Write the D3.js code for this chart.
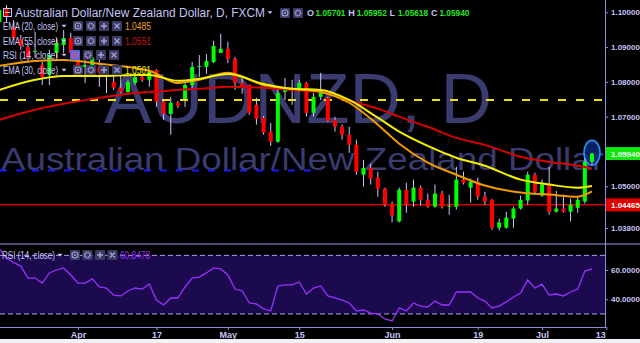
<!DOCTYPE html>
<html>
<head>
<meta charset="UTF-8">
<style>
  html, body { margin: 0; padding: 0; background: #000; }
  svg { display: block; }
  text { font-family: "Liberation Sans", Arial, sans-serif; }
</style>
</head>
<body>
<svg id="chart"></svg>
<script src="https://cdn.jsdelivr.net/npm/d3@7"></script>
<script>
// ---- values (AUDNZD daily, FXCM) ----
const firstDay = "2018-03-16", lastTick = "2018-07-13";

const opens = [1.0972, 1.1012, 1.0958, 1.0923, 1.0900, 1.0886, 1.0849, 1.0820, 1.0883, 1.0906,
  1.0926, 1.0883, 1.0843, 1.0843, 1.0843, 1.0829, 1.0800, 1.0783, 1.0771, 1.0797,
  1.0814, 1.0806, 1.0834, 1.0743, 1.0708, 1.0740, 1.0751, 1.0791, 1.0843, 1.0843,
  1.0857, 1.0883, 1.0895, 1.0866, 1.0797, 1.0791, 1.0734, 1.0697, 1.0657, 1.0628,
  1.0771, 1.0774, 1.0780, 1.0797, 1.0711, 1.0757, 1.0754, 1.0691, 1.0671, 1.0648,
  1.0619, 1.0533, 1.0553, 1.0525, 1.0493, 1.0450, 1.0399, 1.0490, 1.0456, 1.0496,
  1.0461, 1.0441, 1.0479, 1.0441, 1.0441, 1.0519, 1.0496, 1.0513, 1.0470, 1.0461,
  1.0381, 1.0381, 1.0407, 1.0436, 1.0459, 1.0533, 1.0473, 1.0505, 1.0427, 1.0436,
  1.0427, 1.0438, 1.0456, 1.05701];
const highs = [1.1018, 1.1021, 1.0978, 1.0935, 1.0912, 1.0944, 1.0857, 1.0892, 1.0926, 1.0949,
  1.0941, 1.0892, 1.0863, 1.0875, 1.0869, 1.0834, 1.0834, 1.0820, 1.0806, 1.0826,
  1.0820, 1.0834, 1.0837, 1.0748, 1.0757, 1.0745, 1.0797, 1.0857, 1.0877, 1.0880,
  1.0918, 1.0938, 1.0915, 1.0872, 1.0811, 1.0793, 1.0754, 1.0702, 1.0682, 1.0783,
  1.0811, 1.0806, 1.0806, 1.0800, 1.0768, 1.0826, 1.0757, 1.0700, 1.0677, 1.0671,
  1.0634, 1.0576, 1.0565, 1.0542, 1.0496, 1.0456, 1.0496, 1.0510, 1.0519, 1.0502,
  1.0479, 1.0505, 1.0487, 1.0476, 1.0556, 1.0542, 1.0522, 1.0525, 1.0484, 1.0463,
  1.0407, 1.0427, 1.0441, 1.0473, 1.0542, 1.0539, 1.0519, 1.0556, 1.0487, 1.0476,
  1.0464, 1.0470, 1.0580, 1.05952];
const lows = [1.0967, 1.0972, 1.0921, 1.0892, 1.0854, 1.0869, 1.0791, 1.0791, 1.0869, 1.0883,
  1.0869, 1.0820, 1.0797, 1.0834, 1.0786, 1.0768, 1.0777, 1.0768, 1.0763, 1.0791,
  1.0800, 1.0786, 1.0728, 1.0691, 1.0648, 1.0725, 1.0728, 1.0783, 1.0814, 1.0823,
  1.0854, 1.0883, 1.0854, 1.0777, 1.0766, 1.0705, 1.0677, 1.0648, 1.0616, 1.0625,
  1.0748, 1.0734, 1.0771, 1.0700, 1.0700, 1.0748, 1.0685, 1.0657, 1.0634, 1.0596,
  1.0533, 1.0499, 1.0505, 1.0470, 1.0441, 1.0396, 1.0396, 1.0424, 1.0441, 1.0444,
  1.0438, 1.0438, 1.0436, 1.0418, 1.0433, 1.0505, 1.0453, 1.0461, 1.0447, 1.0375,
  1.0373, 1.0378, 1.0381, 1.0433, 1.0447, 1.0476, 1.0470, 1.0418, 1.0424, 1.0424,
  1.0399, 1.0424, 1.0450, 1.05618];
const closes = [1.1007, 1.0987, 1.0926, 1.0903, 1.0869, 1.0889, 1.0814, 1.0877, 1.0912, 1.0926,
  1.0883, 1.0843, 1.0849, 1.0869, 1.0826, 1.0820, 1.0783, 1.0771, 1.0800, 1.0814,
  1.0806, 1.0829, 1.0743, 1.0708, 1.0740, 1.0731, 1.0791, 1.0843, 1.0846, 1.0860,
  1.0903, 1.0895, 1.0866, 1.0797, 1.0786, 1.0711, 1.0694, 1.0654, 1.0628, 1.0768,
  1.0783, 1.0777, 1.0797, 1.0711, 1.0757, 1.0768, 1.0688, 1.0671, 1.0648, 1.0619,
  1.0542, 1.0553, 1.0522, 1.0493, 1.0447, 1.0416, 1.0490, 1.0447, 1.0496, 1.0461,
  1.0441, 1.0479, 1.0441, 1.0444, 1.0519, 1.0510, 1.0513, 1.0470, 1.0456, 1.0381,
  1.0396, 1.0410, 1.0436, 1.0461, 1.0533, 1.0484, 1.0505, 1.0427, 1.0436, 1.0427,
  1.0447, 1.0461, 1.0570, 1.05940];

const rsi = [74.3, 68.2, 65.0, 62.7, 54.5, 54.5, 51.1, 58.0, 60.0, 61.4,
  56.6, 51.1, 51.1, 53.9, 48.4, 47.7, 42.9, 42.3, 45.7, 47.7,
  47.0, 50.4, 39.5, 36.1, 40.9, 40.9, 48.4, 54.5, 55.2, 58.0,
  61.4, 60.7, 56.6, 47.0, 45.7, 37.5, 36.8, 33.4, 32.0, 49.1,
  49.8, 49.8, 51.8, 43.6, 47.7, 49.1, 42.3, 40.9, 39.5, 37.5,
  32.0, 32.7, 30.6, 30.0, 26.6, 25.2, 34.1, 32.0, 37.5, 35.4,
  34.7, 38.8, 36.1, 36.1, 45.0, 45.0, 45.0, 40.9, 38.8, 34.1,
  35.4, 38.2, 41.6, 44.3, 53.2, 47.7, 50.4, 42.9, 43.6, 42.3,
  45.0, 47.0, 59.3, 60.8478];

// moving averages, read at these bar indices
const emaIdx = [0, 5, 9, 14, 19, 21, 25, 28, 32, 37, 41, 45, 49, 53, 56, 60, 64, 68, 73, 77, 81, 83];
const ema20 = [1.0846, 1.0860, 1.0863, 1.0852, 1.0840, 1.0832, 1.0797, 1.0806, 1.0826, 1.0791, 1.0780,
  1.0771, 1.0740, 1.0677, 1.0622, 1.0568, 1.0533, 1.0502, 1.0482, 1.0476, 1.0470, 1.0485];
const ema30 = [1.0777, 1.0806, 1.0817, 1.0817, 1.0820, 1.0820, 1.0803, 1.0809, 1.0823, 1.0794, 1.0780,
  1.0777, 1.0748, 1.0697, 1.0657, 1.0616, 1.0582, 1.0559, 1.0519, 1.0505, 1.0496, 1.0501];
const ema55 = [1.0691, 1.0720, 1.0737, 1.0754, 1.0768, 1.0771, 1.0777, 1.0780, 1.0786, 1.0783, 1.0777,
  1.0771, 1.0746, 1.0723, 1.0700, 1.0671, 1.0639, 1.0619, 1.0585, 1.0570, 1.0559, 1.0551];

// drawings and axis ticks
const supportLevel = 1.04465;
const yellowLevel = 1.0748;
const blueLevel = 1.0545, blueEndIdx = 45;
const ellipseLevel = 1.0596;
const priceTicks = [1.10, 1.09, 1.08, 1.07, 1.05, 1.038];
const rsiTicks = [40, 60];
const rsiBands = [70, 30];
const tickDates = ["2018-04-02", "2018-04-17", "2018-05-01", "2018-05-15", "2018-06-01", "2018-06-19", "2018-07-02", "2018-07-13"];
const tickLabels = ["Apr", "17", "May", "15", "Jun", "19", "Jul", "13"];

// ---- layout ----
const W = 640, H = 343;
const axisX = 605, mainBottom = 243, rsiTop = 245, rsiBottom = 327;
const n = closes.length, last = n - 1;
const lav = "#c4c4f4";

const svg = d3.select("#chart").attr("width", W).attr("height", H);
svg.append("rect").attr("width", W).attr("height", H).attr("fill", "#000");

const days = d3.utcDay.range(new Date(firstDay), d3.utcDay.offset(new Date(lastTick), 1))
  .filter(d => d.getUTCDay() > 0 && d.getUTCDay() < 6);
const fmtDay = d3.utcFormat("%Y-%m-%d");
const dayIndex = new Map(days.map((d, i) => [fmtDay(d), i]));

const x = d3.scaleLinear().domain([0, last]).range([-0.6, 592]);
const y = d3.scaleLinear().domain([1.038, 1.10]).range([228, 12.3]);
const yR = d3.scaleLinear().domain([40, 60]).range([299.3, 270]);

const defs = svg.append("defs");
defs.append("clipPath").attr("id", "clipMain").append("rect")
  .attr("x", 0).attr("y", 0).attr("width", axisX).attr("height", mainBottom);
defs.append("clipPath").attr("id", "clipRsi").append("rect")
  .attr("x", 0).attr("y", rsiTop).attr("width", axisX).attr("height", rsiBottom - rsiTop);

// ---- main panel ----
const main = svg.append("g").attr("clip-path", "url(#clipMain)");

// watermarks
main.append("text").attr("x", 104).attr("y", 123)
  .attr("font-size", 71).attr("fill", "#3a3b6e")
  .attr("textLength", 388).attr("lengthAdjust", "spacingAndGlyphs")
  .text("AUDNZD, D");
main.append("text").attr("x", 1).attr("y", 170)
  .attr("font-size", 31).attr("fill", "#3a3b6e")
  .attr("textLength", 603).attr("lengthAdjust", "spacingAndGlyphs")
  .text("Australian Dollar/New Zealand Dollar");

// horizontal drawings
main.append("line").attr("x1", 0).attr("x2", axisX)
  .attr("y1", y(yellowLevel)).attr("y2", y(yellowLevel))
  .attr("stroke", "#f0e000").attr("stroke-width", 2).attr("stroke-dasharray", "8,10");
main.append("line").attr("x1", 0).attr("x2", x(blueEndIdx))
  .attr("y1", y(blueLevel)).attr("y2", y(blueLevel))
  .attr("stroke", "#1a1aff").attr("stroke-width", 2).attr("stroke-dasharray", "7,9");
main.append("line").attr("x1", 0).attr("x2", axisX)
  .attr("y1", y(supportLevel)).attr("y2", y(supportLevel))
  .attr("stroke", "#d00000").attr("stroke-width", 1.5);

// ellipse highlight behind last candle
main.append("ellipse").attr("cx", x(last)).attr("cy", y(ellipseLevel))
  .attr("rx", 8).attr("ry", 12.5)
  .attr("fill", "#0c2a7a").attr("fill-opacity", 0.8)
  .attr("stroke", "#2a90ff").attr("stroke-width", 1.6);

// candles
const bars = d3.range(n).map(i => ({ i, o: opens[i], h: highs[i], l: lows[i], c: closes[i] }));
const candle = main.append("g").selectAll("g").data(bars).join("g");
candle.append("line")
  .attr("x1", d => x(d.i)).attr("x2", d => x(d.i))
  .attr("y1", d => y(d.h)).attr("y2", d => y(d.l))
  .attr("stroke", "#c8c8ff").attr("stroke-width", 1);
candle.append("rect")
  .attr("x", d => x(d.i) - 2).attr("width", 4)
  .attr("y", d => y(Math.max(d.o, d.c)))
  .attr("height", d => Math.max(1, Math.abs(y(d.o) - y(d.c))))
  .attr("fill", d => d.c >= d.o ? "#00ff00" : "#ff0000");

// moving averages
const emaLine = vals => d3.line()
  .x((d, k) => x(emaIdx[k])).y(d => y(d))
  .curve(d3.curveMonotoneX)(vals);
[[ema55, "#d80000"], [ema20, "#f09a00"], [ema30, "#f4f000"]].forEach(([vals, col]) => {
  main.append("path").attr("d", emaLine(vals))
    .attr("fill", "none").attr("stroke", col).attr("stroke-width", 2);
});

// ---- RSI panel ----
svg.append("rect").attr("x", 0).attr("y", 243).attr("width", W).attr("height", 2).attr("fill", "#4e4e74");
const rp = svg.append("g").attr("clip-path", "url(#clipRsi)");
rp.append("rect").attr("x", 0).attr("width", axisX)
  .attr("y", yR(rsiBands[0])).attr("height", yR(rsiBands[1]) - yR(rsiBands[0]))
  .attr("fill", "#1b0b4e");
rp.selectAll("line.band").data(rsiBands).join("line").attr("class", "band")
  .attr("x1", 0).attr("x2", axisX).attr("y1", d => yR(d)).attr("y2", d => yR(d))
  .attr("stroke", "#a8a0f0").attr("stroke-width", 1).attr("stroke-dasharray", "5,3");
rp.append("path")
  .attr("d", d3.line().x((d, i) => x(i)).y(d => yR(d))(rsi))
  .attr("fill", "none").attr("stroke", "#9a30ff").attr("stroke-width", 1.3);

// ---- axes ----
svg.append("line").attr("x1", axisX + 0.5).attr("x2", axisX + 0.5).attr("y1", 0).attr("y2", rsiBottom)
  .attr("stroke", "#8e8ee0").attr("stroke-width", 1);

function styleAxis(g) {
  g.select(".domain").remove();
  g.selectAll(".tick line").attr("stroke", "#8e8ee0");
  g.selectAll(".tick text").attr("fill", lav).attr("font-size", 8).attr("font-weight", "bold")
    .attr("font-family", "'Liberation Sans', Arial, sans-serif");
}
svg.append("g").attr("transform", `translate(${axisX},0)`)
  .call(d3.axisRight(y).tickValues(priceTicks).tickFormat(d3.format(".5f")).tickSize(3).tickPadding(3))
  .call(styleAxis);
svg.append("g").attr("transform", `translate(${axisX},0)`)
  .call(d3.axisRight(yR).tickValues(rsiTicks).tickFormat(d3.format(".4f")).tickSize(3).tickPadding(3))
  .call(styleAxis);

// price labels on the axis
[[closes[last], "#10e810", "#f0fff0"], [supportLevel, "#e00000", "#ffffff"]].forEach(([v, bg, fg]) => {
  svg.append("rect").attr("x", axisX + 1).attr("y", y(v) - 6.5).attr("width", W - axisX - 1).attr("height", 13).attr("fill", bg);
  svg.append("text").attr("x", axisX + 6).attr("y", y(v) + 3)
    .attr("font-size", 8).attr("font-weight", "bold").attr("fill", fg)
    .text(d3.format(".5f")(v));
});

// time axis
svg.append("line").attr("x1", 0).attr("x2", axisX + 1).attr("y1", rsiBottom + 0.5).attr("y2", rsiBottom + 0.5)
  .attr("stroke", "#8e8ee0");
const tickIdx = tickDates.map(d => dayIndex.get(d));
const xa = svg.append("g").attr("transform", `translate(0,${rsiBottom})`)
  .call(d3.axisBottom(x).tickValues(tickIdx).tickFormat((d, k) => tickLabels[k]).tickSize(3).tickPadding(2));
xa.call(styleAxis);
xa.selectAll(".tick text").attr("font-size", 9);
xa.selectAll(".tick").filter(d => x(d) > 598).select("text").attr("dx", -6);
svg.append("rect").attr("x", 0).attr("y", 339).attr("width", W).attr("height", 4).attr("fill", "#f2f2f6");

// ---- legends ----
function button(g, bx, by, kind, hl) {
  const b = g.append("g").attr("transform", `translate(${bx},${by})`);
  b.append("rect").attr("width", 10).attr("height", 10).attr("rx", 1).attr("fill", hl ? "#3f6ef2" : "#3a3a62");
  const c = hl ? "#ff4a6a" : "#a0a0d4";
  if (kind === "eye") {
    b.append("circle").attr("cx", 5).attr("cy", 5).attr("r", 3).attr("fill", "none").attr("stroke", c).attr("stroke-width", 1.1);
    b.append("circle").attr("cx", 5).attr("cy", 5).attr("r", 1).attr("fill", c);
  } else if (kind === "gear") {
    b.append("circle").attr("cx", 5).attr("cy", 5).attr("r", 2.7).attr("fill", "none").attr("stroke", c)
      .attr("stroke-width", 1.8).attr("stroke-dasharray", "1.4,0.7");
  } else if (kind === "plus") {
    b.append("path").attr("d", "M5,2V8M2,5H8").attr("stroke", c).attr("stroke-width", 1.5);
  } else {
    b.append("path").attr("d", "M2.5,2.5L7.5,7.5M7.5,2.5L2.5,7.5").attr("stroke", c).attr("stroke-width", 1.4);
  }
}
function caret(g, cx, cy) {
  g.append("path").attr("d", `M${cx - 2.5},${cy - 1.2}L${cx + 2.5},${cy - 1.2}L${cx},${cy + 1.6}Z`).attr("fill", lav);
}

const leg = svg.append("g");
leg.append("rect").attr("x", 3.5).attr("y", 8.5).attr("width", 8).attr("height", 8)
  .attr("fill", "none").attr("stroke", lav).attr("stroke-width", 1);
leg.append("line").attr("x1", 5).attr("x2", 10).attr("y1", 12.5).attr("y2", 12.5).attr("stroke", lav);
leg.append("text").attr("x", 15).attr("y", 17).attr("font-size", 12).attr("fill", lav)
  .attr("textLength", 250).attr("lengthAdjust", "spacingAndGlyphs")
  .text("Australian Dollar/New Zealand Dollar, D, FXCM");
caret(leg, 270, 12.5);
button(leg, 280, 8, "eye");
button(leg, 293, 8, "gear");

const ohlc = [["O", opens[last]], ["H", highs[last]], ["L", lows[last]], ["C", closes[last]]];
ohlc.forEach(([k, v], j) => {
  const bx = 307 + j * 41.3;
  leg.append("text").attr("x", bx).attr("y", 16).attr("font-size", 9).attr("font-weight", "bold").attr("fill", lav).text(k);
  leg.append("text").attr("x", bx + 8.5).attr("y", 16).attr("font-size", 9).attr("font-weight", "bold").attr("fill", "#22e622")
    .attr("textLength", 30).attr("lengthAdjust", "spacingAndGlyphs").text(d3.format(".5f")(v));
});

const rows = [
  { label: "EMA (20, close)", cy: 26, val: d3.format(".4f")(ema20[ema20.length - 1]), col: "#f0a020", bx: 73 },
  { label: "EMA (55, close)", cy: 41, val: d3.format(".4f")(ema55[ema55.length - 1]), col: "#c81414", bx: 73 },
  { label: "RSI (14, close)", cy: 55, val: null, col: null, bx: 70, hl: true },
  { label: "EMA (30, close)", cy: 70, val: d3.format(".4f")(ema30[ema30.length - 1]), col: "#e8e800", bx: 73 }
];
rows.forEach(r => {
  leg.append("text").attr("x", 3).attr("y", r.cy + 3.5).attr("font-size", 10).attr("fill", lav)
    .attr("textLength", 55).attr("lengthAdjust", "spacingAndGlyphs").text(r.label);
  caret(leg, 64, r.cy);
  ["eye", "gear", "plus", "close"].forEach((k, j) => button(leg, r.bx + j * 13, r.cy - 5, k, r.hl && j === 0));
  if (r.val) {
    leg.append("text").attr("x", 125).attr("y", r.cy + 3.5).attr("font-size", 10).attr("fill", r.col)
      .attr("textLength", 26).attr("lengthAdjust", "spacingAndGlyphs").text(r.val);
  }
});

// RSI legend
const rl = svg.append("g");
rl.append("text").attr("x", 2).attr("y", 258.5).attr("font-size", 10).attr("fill", lav)
  .attr("textLength", 53).attr("lengthAdjust", "spacingAndGlyphs").text("RSI (14, close)");
caret(rl, 60, 255);
["eye", "gear", "plus", "close"].forEach((k, j) => button(rl, 70 + j * 12.5, 250, k));
rl.append("text").attr("x", 120).attr("y", 258.5).attr("font-size", 10).attr("fill", "#9a30ff")
  .attr("textLength", 30).attr("lengthAdjust", "spacingAndGlyphs").text(d3.format(".4f")(rsi[last]));
</script>
</body>
</html>
